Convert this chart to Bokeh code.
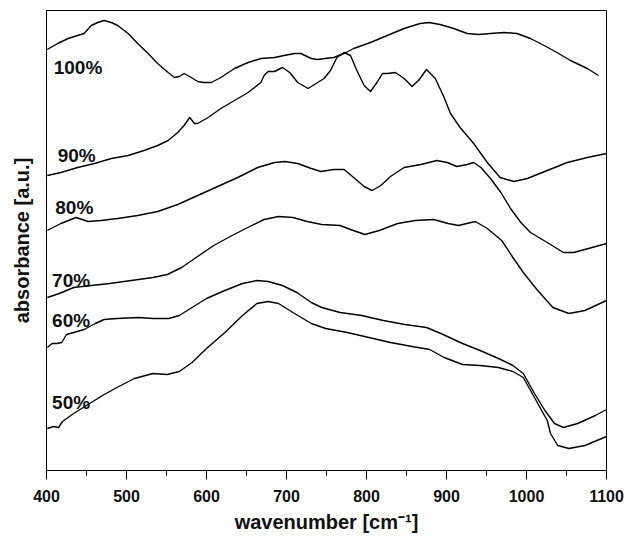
from bokeh.plotting import figure
from bokeh.models import Range1d, FixedTicker, Label
from bokeh.embed import file_html
from bokeh.resources import INLINE

# wavenumber [cm-1] and absorbance [a.u.] (offset curves)
wn_100 = [401, 414, 427, 439, 447, 456, 464, 472, 481, 489, 502, 514, 527, 539, 552, 560, 566, 572, 581, 589, 597, 606, 618, 635, 652, 668, 685, 697, 710, 718, 731, 739, 748, 759, 772, 784, 805, 826, 847, 867, 878, 892, 909, 926, 940, 955, 972, 988, 1005, 1022, 1038, 1055, 1076, 1090]
ab_100 = [4.21, 4.27, 4.32, 4.35, 4.37, 4.45, 4.48, 4.50, 4.48, 4.45, 4.37, 4.27, 4.17, 4.07, 3.98, 3.93, 3.94, 3.97, 3.93, 3.89, 3.88, 3.88, 3.93, 4.02, 4.08, 4.12, 4.13, 4.15, 4.17, 4.17, 4.12, 4.11, 4.12, 4.13, 4.17, 4.22, 4.28, 4.35, 4.42, 4.47, 4.48, 4.46, 4.42, 4.37, 4.36, 4.37, 4.38, 4.37, 4.32, 4.25, 4.18, 4.10, 4.02, 3.95]

wn_90 = [401, 418, 439, 460, 481, 502, 522, 539, 552, 564, 572, 579, 585, 589, 602, 618, 635, 652, 668, 672, 677, 685, 695, 704, 714, 727, 737, 747, 755, 763, 772, 780, 788, 797, 805, 813, 820, 826, 836, 847, 857, 865, 875, 886, 897, 905, 917, 934, 951, 967, 984, 1001, 1026, 1051, 1076, 1100]
ab_90 = [2.95, 2.98, 3.03, 3.07, 3.12, 3.15, 3.20, 3.25, 3.30, 3.38, 3.45, 3.53, 3.47, 3.47, 3.53, 3.62, 3.70, 3.78, 3.88, 3.95, 3.99, 3.99, 4.03, 3.98, 3.88, 3.82, 3.87, 3.92, 4.00, 4.13, 4.18, 4.15, 4.00, 3.85, 3.79, 3.88, 3.97, 3.97, 3.98, 3.92, 3.84, 3.90, 4.01, 3.92, 3.73, 3.57, 3.43, 3.27, 3.08, 2.93, 2.89, 2.92, 3.00, 3.08, 3.13, 3.17]

wn_80 = [401, 418, 437, 452, 468, 489, 514, 539, 564, 589, 614, 639, 664, 685, 698, 714, 731, 743, 759, 772, 784, 797, 807, 818, 830, 847, 868, 888, 901, 913, 926, 934, 943, 955, 968, 980, 993, 1005, 1028, 1046, 1059, 1082, 1100]
ab_80 = [2.40, 2.47, 2.53, 2.49, 2.50, 2.52, 2.55, 2.59, 2.66, 2.75, 2.84, 2.93, 3.03, 3.08, 3.09, 3.07, 3.02, 2.99, 3.01, 3.01, 2.93, 2.84, 2.80, 2.85, 2.94, 3.03, 3.06, 3.10, 3.08, 3.04, 3.06, 3.08, 3.03, 2.92, 2.78, 2.62, 2.48, 2.38, 2.27, 2.18, 2.18, 2.23, 2.27]

wn_70 = [401, 416, 434, 456, 479, 506, 533, 551, 569, 587, 609, 632, 654, 672, 690, 708, 726, 744, 767, 780, 798, 816, 839, 861, 884, 902, 915, 936, 951, 969, 983, 996, 1014, 1033, 1053, 1073, 1100]
ab_70 = [1.73, 1.77, 1.83, 1.85, 1.87, 1.90, 1.93, 1.96, 2.03, 2.13, 2.25, 2.35, 2.44, 2.51, 2.54, 2.53, 2.49, 2.46, 2.45, 2.41, 2.36, 2.40, 2.47, 2.50, 2.51, 2.47, 2.45, 2.49, 2.42, 2.30, 2.13, 1.98, 1.80, 1.63, 1.57, 1.60, 1.70]

wn_60 = [401, 407, 413, 419, 425, 434, 447, 461, 472, 488, 515, 533, 553, 566, 582, 600, 623, 645, 663, 677, 695, 713, 731, 744, 767, 794, 821, 848, 875, 893, 920, 942, 965, 983, 996, 1010, 1023, 1035, 1046, 1064, 1086, 1100]
ab_60 = [1.23, 1.27, 1.27, 1.28, 1.36, 1.38, 1.41, 1.47, 1.51, 1.52, 1.53, 1.52, 1.52, 1.55, 1.63, 1.72, 1.80, 1.87, 1.90, 1.89, 1.85, 1.78, 1.68, 1.63, 1.58, 1.55, 1.50, 1.46, 1.43, 1.37, 1.27, 1.20, 1.12, 1.05, 0.97, 0.77, 0.60, 0.47, 0.43, 0.47, 0.55, 0.61]

wn_50 = [401, 409, 415, 420, 434, 452, 470, 488, 510, 533, 551, 566, 582, 600, 623, 645, 663, 677, 690, 708, 731, 749, 776, 803, 830, 857, 879, 897, 920, 942, 965, 983, 996, 1010, 1021, 1026, 1030, 1039, 1053, 1073, 1100]
ab_50 = [0.42, 0.44, 0.43, 0.49, 0.57, 0.66, 0.75, 0.83, 0.92, 0.97, 0.96, 0.99, 1.08, 1.22, 1.38, 1.55, 1.67, 1.69, 1.67, 1.58, 1.47, 1.42, 1.38, 1.33, 1.28, 1.24, 1.21, 1.13, 1.06, 1.05, 1.03, 0.99, 0.93, 0.73, 0.57, 0.50, 0.37, 0.25, 0.22, 0.25, 0.34]

series_labels = ["100%", "90%", "80%", "70%", "60%", "50%"]
label_x = [409, 414, 411, 407, 407, 407]
label_y = [4.03, 3.15, 2.63, 1.90, 1.50, 0.68]

x_ticks = [400, 500, 600, 700, 800, 900, 1000, 1100]
x_minor = [450, 550, 650, 750, 850, 950, 1050]

FONT = "Liberation Sans"

p = figure(width=628, height=538, output_backend="svg", toolbar_location=None,
           x_range=Range1d(400, 1100), y_range=Range1d(0, 4.6),
           min_border_left=46, min_border_right=22, min_border_top=10, min_border_bottom=68)
p.grid.visible = False
p.outline_line_color = "black"
p.outline_line_width = 1
p.background_fill_color = "white"
p.border_fill_color = "white"

xs = [wn_100, wn_90, wn_80, wn_70, wn_60, wn_50]
ys = [ab_100, ab_90, ab_80, ab_70, ab_60, ab_50]
for xv, yv in zip(xs, ys):
    p.line(xv, yv, line_color="black", line_width=1.4, line_join="round")

for t, lx, ly in zip(series_labels, label_x, label_y):
    p.add_layout(Label(x=lx, y=ly, text=t, text_font=FONT, text_font_size="19px",
                       text_font_style="bold", text_color="#111111", text_baseline="alphabetic",
                       text_align="left"))

xa = p.xaxis[0]
xa.ticker = FixedTicker(ticks=x_ticks, minor_ticks=x_minor)
xa.major_tick_out = 9
xa.major_tick_in = 0
xa.minor_tick_out = 5
xa.minor_tick_in = 0
xa.major_tick_line_color = "black"
xa.minor_tick_line_color = "black"
xa.axis_line_color = "black"
xa.major_label_text_font = FONT
xa.major_label_text_font_size = "16px"
xa.major_label_text_font_style = "bold"
xa.major_label_text_color = "#111111"
xa.major_label_standoff = 10
xa.axis_label = "wavenumber [cm\u207b\u00b9]"
xa.axis_label_text_font = FONT
xa.axis_label_text_font_size = "20px"
xa.axis_label_text_font_style = "bold"
xa.axis_label_text_color = "#111111"
xa.axis_label_standoff = 6

ya = p.yaxis[0]
ya.ticker = FixedTicker(ticks=[])
ya.major_tick_line_color = None
ya.minor_tick_line_color = None
ya.axis_line_color = "black"
ya.axis_label = "absorbance [a.u.]"
ya.axis_label_text_font = FONT
ya.axis_label_text_font_size = "20px"
ya.axis_label_text_font_style = "bold"
ya.axis_label_text_color = "#111111"
ya.axis_label_standoff = 14

open("out.html", "w").write(file_html(p, INLINE))
